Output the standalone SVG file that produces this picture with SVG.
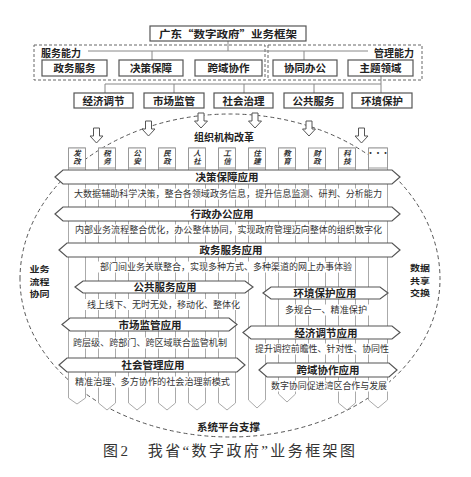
<svg xmlns="http://www.w3.org/2000/svg" width="471" height="477" viewBox="0 0 471 477">
<style>
text{font-family:"Noto Sans CJK SC","Noto Sans",sans-serif;fill:#222}
.box{fill:#fff;stroke:#555;stroke-width:1.2}
.dash{fill:none;stroke:#666;stroke-width:1;stroke-dasharray:3 2}
.ln{fill:none;stroke:#888;stroke-width:1}
.arr{fill:#fff;stroke:#555;stroke-width:1}
.col{fill:#fff;stroke:#aaa;stroke-width:1}
.dbox{fill:#fff;stroke:#999;stroke-width:1}
.band{fill:#fff;stroke:#555;stroke-width:1.2}
.ell{fill:none;stroke:#555;stroke-width:1;stroke-dasharray:4 3}
.t10{font-size:10.5px;font-weight:bold;text-anchor:middle}
.side{font-size:8.5px;font-weight:bold;text-anchor:middle}
.lab{font-size:10px;font-weight:bold}
.t9{font-size:9px;fill:#333}
.dep{font-size:7.5px;font-weight:bold;font-style:italic;text-anchor:middle;fill:#333;writing-mode:vertical-rl}
.bg{fill:#fff}
.cap{font-family:"Liberation Serif","Noto Sans CJK SC",serif;font-size:15px;fill:#333}
</style>
<defs>
<path id="da" class="arr" d="M-3,0H3V8H6.5L0,15L-6.5,8H-3Z"/>
</defs>
<rect width="471" height="477" fill="#fff"/>

<!-- dashed ellipse (behind) -->
<path class="ell" d="M20,279A210,165 0 0 1 440,279A210,158 0 0 1 20,279"/>

<!-- top section -->
<g id="dashed-groups">
<rect class="dash" x="34" y="45" width="231" height="35"/>
<rect class="dash" x="268" y="45" width="154" height="35"/>
<text class="lab" x="41" y="57">服务能力</text>
<text class="lab" x="374" y="57">管理能力</text>
</g>

<g id="connectors">
<path class="ln" d="M228,41V51M88,51H368M152,51V60M304,51V60"/>
<path class="ln" d="M105,84H381M381,76V93M105,84V93M174,84V93M244,84V93M314,84V93"/>
</g>

<g id="title"><rect class="box" x="150" y="26" width="156" height="15"/><text class="t10" x="228" y="37.5" textLength="138" lengthAdjust="spacingAndGlyphs">广东“数字政府”业务框架</text></g>

<g id="n-zwfw"><rect class="box" x="42" y="60" width="65" height="16"/><text class="t10" x="74.5" y="72">政务服务</text></g>
<g id="n-jcbz"><rect class="box" x="119" y="60" width="64" height="16"/><text class="t10" x="151" y="72">决策保障</text></g>
<g id="n-kyxz"><rect class="box" x="195" y="60" width="67" height="16"/><text class="t10" x="228.5" y="72">跨域协作</text></g>
<g id="n-xtbg"><rect class="box" x="273" y="60" width="64" height="16"/><text class="t10" x="305" y="72">协同办公</text></g>
<g id="n-ztly"><rect class="box" x="348" y="60" width="65" height="16"/><text class="t10" x="380.5" y="72">主题领域</text></g>

<g id="n-jjtj"><rect class="box" x="74" y="93" width="59" height="15"/><text class="t10" x="103.5" y="104.5">经济调节</text></g>
<g id="n-scjg"><rect class="box" x="144" y="93" width="60" height="15"/><text class="t10" x="174" y="104.5">市场监管</text></g>
<g id="n-shzl"><rect class="box" x="214" y="93" width="59" height="15"/><text class="t10" x="243.5" y="104.5">社会治理</text></g>
<g id="n-ggfw"><rect class="box" x="284" y="93" width="59" height="15"/><text class="t10" x="313.5" y="104.5">公共服务</text></g>
<g id="n-hjbh"><rect class="box" x="352" y="93" width="60" height="15"/><text class="t10" x="382" y="104.5">环境保护</text></g>

<g id="arrows">
<use href="#da" x="96.5" y="128"/>
<use href="#da" x="148.5" y="121"/>
<use href="#da" x="201" y="113"/>
<use href="#da" x="255" y="113"/>
<use href="#da" x="309" y="121"/>
<use href="#da" x="361.5" y="128"/>
</g>
<text class="t10" x="224" y="141" style="font-size:10px">组织机构改革</text>

<!-- columns -->
<g id="columns">
<path class="col" d="M68.5,148V398L77,404L85.5,398V148Z"/>
<path class="col" d="M98.5,148V403L107,410L115.5,403V148Z"/>
<path class="col" d="M128.5,148V403L137,410L145.5,403V148Z"/>
<path class="col" d="M158.5,148V403L167,410L175.5,403V148Z"/>
<path class="col" d="M188.5,148V403L197,410L205.5,403V148Z"/>
<path class="col" d="M218.5,148V403L227,410L235.5,403V148Z"/>
<path class="col" d="M248.5,148V400L257,408L265.5,400V148Z"/>
<path class="col" d="M278.5,148V394L287,402L295.5,394V148Z"/>
<path class="col" style="fill:#fff" d="M308.5,148V381M325.5,381V148"/>
<path class="col" d="M338.5,148V403L347,410L355.5,403V148Z"/>
<path class="col" d="M368.5,148V400L378,408L387.5,400V148Z"/>
</g>

<g id="departments">
<rect class="dbox" x="68.5" y="148" width="17" height="20"/><text class="dep" x="77" y="157">发改</text>
<rect class="dbox" x="98.5" y="148" width="17" height="20"/><text class="dep" x="107" y="157">税务</text>
<rect class="dbox" x="128.5" y="148" width="17" height="20"/><text class="dep" x="137" y="157">公安</text>
<rect class="dbox" x="158.5" y="148" width="17" height="20"/><text class="dep" x="167" y="157">民政</text>
<rect class="dbox" x="188.5" y="148" width="17" height="20"/><text class="dep" x="197" y="157">人社</text>
<rect class="dbox" x="218.5" y="148" width="17" height="20"/><text class="dep" x="227" y="157">工信</text>
<rect class="dbox" x="248.5" y="148" width="17" height="20"/><text class="dep" x="257" y="157">住建</text>
<rect class="dbox" x="278.5" y="148" width="17" height="20"/><text class="dep" x="287" y="157">教育</text>
<rect class="dbox" x="308.5" y="148" width="17" height="20"/><text class="dep" x="317" y="157">财政</text>
<rect class="dbox" x="338.5" y="148" width="17" height="20"/><text class="dep" x="347" y="157">科技</text>
<rect class="dbox" x="368.5" y="148" width="19" height="20"/><text x="378" y="156" style="font-size:7.5px;font-weight:bold;text-anchor:middle;fill:#333">···</text>
</g>

<!-- bands -->
<g id="b-jcbz"><polygon class="band" points="55,177 63,170 392,170 400,177 392,184 63,184"/><text class="t10" x="227" y="181">决策保障应用</text></g>
<g id="b-xzbg"><polygon class="band" points="55,214 63,207 392,207 400,214 392,221 63,221"/><text class="t10" x="222" y="218">行政办公应用</text></g>
<g id="b-zwfw"><polygon class="band" points="59,250 67,243 392,243 400,250 392,257 67,257"/><text class="t10" x="231" y="254">政务服务应用</text></g>
<g id="b-ggfw"><polygon class="band" points="75,287 83,281 245,281 253,287 245,293 83,293"/><text class="t10" x="165" y="291">公共服务应用</text></g>
<g id="b-hjbh"><polygon class="band" points="263,293 271,287 380,287 388,293 380,299 271,299"/><text class="t10" x="325" y="297">环境保护应用</text></g>
<g id="b-scjg"><polygon class="band" points="62,324.5 70,318 229,318 237,324.5 229,331 70,331"/><text class="t10" x="150" y="328.5">市场监管应用</text></g>
<g id="b-jjtj"><polygon class="band" points="243,332.5 251,326 392,326 400,332.5 392,339 251,339"/><text class="t10" x="326" y="336.5">经济调节应用</text></g>
<g id="b-shgl"><polygon class="band" points="59,365 67,358 237,358 245,365 237,372 67,372"/><text class="t10" x="153" y="369">社会管理应用</text></g>
<g id="b-kyxz"><polygon class="band" points="259,370 267,363 389,363 397,370 389,377 267,377"/><text class="t10" x="328" y="374">跨域协作应用</text></g>

<!-- description rows -->
<g id="descriptions">
<rect class="bg" x="72" y="188.5" width="312" height="11"/><text class="t9" x="74" y="197" textLength="308" lengthAdjust="spacingAndGlyphs">大数据辅助科学决策，整合各领域政务信息，提升信息监测、研判、分析能力</text>
<rect class="bg" x="73" y="224.5" width="311" height="11"/><text class="t9" x="75" y="233" textLength="307" lengthAdjust="spacingAndGlyphs">内部业务流程整合优化，办公整体协同，实现政府管理迈向整体的组织数字化</text>
<rect class="bg" x="98" y="261.5" width="256" height="11"/><text class="t9" x="100" y="270" textLength="252" lengthAdjust="spacingAndGlyphs">部门间业务关联整合，实现多种方式、多种渠道的网上办事体验</text>
<rect class="bg" x="85" y="299" width="157" height="11"/><text class="t9" x="87" y="307.5" textLength="153" lengthAdjust="spacingAndGlyphs">线上线下、无时无处，移动化、整体化</text>
<rect class="bg" x="283" y="304.5" width="86" height="11"/><text class="t9" x="285" y="313" textLength="82" lengthAdjust="spacingAndGlyphs">多规合一、精准保护</text>
<rect class="bg" x="71" y="337.5" width="158" height="11"/><text class="t9" x="73" y="346" textLength="154" lengthAdjust="spacingAndGlyphs">跨层级、跨部门、跨区域联合监管机制</text>
<rect class="bg" x="253" y="343.5" width="138" height="11"/><text class="t9" x="255" y="352" textLength="134" lengthAdjust="spacingAndGlyphs">提升调控前瞻性、针对性、协同性</text>
<rect class="bg" x="73" y="376.5" width="159" height="11"/><text class="t9" x="75" y="385" textLength="155" lengthAdjust="spacingAndGlyphs">精准治理、多方协作的社会治理新模式</text>
<rect class="bg" x="269" y="380.5" width="120" height="11"/><text class="t9" x="271" y="389" textLength="116" lengthAdjust="spacingAndGlyphs">数字协同促进湾区合作与发展</text>
</g>

<g id="side-labels">
<text class="side"><tspan x="39.5" y="272" textLength="20" lengthAdjust="spacingAndGlyphs">业务</tspan><tspan x="39.5" y="284.5" textLength="20" lengthAdjust="spacingAndGlyphs">流程</tspan><tspan x="39.5" y="297" textLength="20" lengthAdjust="spacingAndGlyphs">协同</tspan></text>
<text class="side"><tspan x="420" y="271" textLength="20" lengthAdjust="spacingAndGlyphs">数据</tspan><tspan x="420" y="283.5" textLength="20" lengthAdjust="spacingAndGlyphs">共享</tspan><tspan x="420" y="296" textLength="20" lengthAdjust="spacingAndGlyphs">交换</tspan></text>
<text class="t10" x="228.5" y="431">系统平台支撑</text>
</g>

<text class="cap" x="103" y="456" textLength="252" lengthAdjust="spacing">图2　我省“数字政府”业务框架图</text>
</svg>
